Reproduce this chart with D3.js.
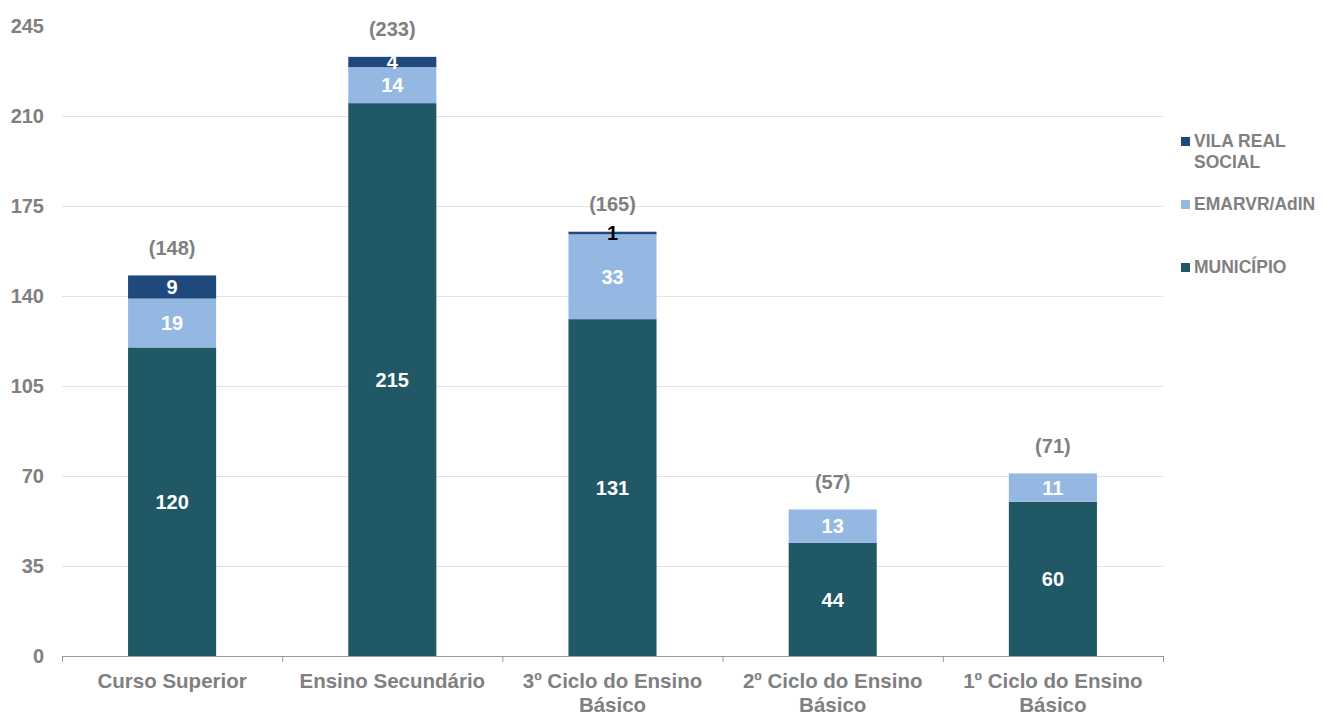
<!DOCTYPE html>
<html><head><meta charset="utf-8">
<script src="https://cdn.jsdelivr.net/npm/d3@7"></script>
<style>body{margin:0;background:#fff}svg{display:block;font-family:"Liberation Sans",Arial,sans-serif}</style>
</head><body><svg id="c" width="1333" height="715"></svg>
<script>
const categories = ["Curso Superior","Ensino Secundário","3º Ciclo do Ensino Básico","2º Ciclo do Ensino Básico","1º Ciclo do Ensino Básico"];
const labelLines = [["Curso Superior"],["Ensino Secundário"],["3º Ciclo do Ensino","Básico"],["2º Ciclo do Ensino","Básico"],["1º Ciclo do Ensino","Básico"]];
const municipio = [120,215,131,44,60];
const emarvr = [19,14,33,13,11];
const vilaReal = [9,4,1,0,0];
const yTicks = [0,35,70,105,140,175,210,245];
const seriesNames = ["MUNICÍPIO","EMARVR/AdIN","VILA REAL SOCIAL"];
const colors = ["#215866","#95B8E3","#1F487C"];

const svg = d3.select("#c");
const L=62,R=1163,T=26,B=656;
const x = d3.scaleBand().domain(categories).range([L,R]).padding(0);
const y = d3.scaleLinear().domain([0,245]).range([B,T]);
const gray="#808080";

svg.append("g").selectAll("line").data(yTicks.filter(d=>d>0 && d<245)).join("line")
 .attr("x1",L).attr("x2",R).attr("y1",d=>y(d)+0.5).attr("y2",d=>y(d)+0.5)
 .attr("stroke","#e3e3e3").attr("stroke-width",1);

svg.append("g").selectAll("text").data(yTicks).join("text")
 .attr("x",44).attr("y",d=>y(d)).attr("dy","0.36em").attr("text-anchor","end")
 .attr("font-size",20).attr("font-weight","bold").attr("fill",gray).text(d=>d);

const data = categories.map((c,i)=>({cat:c,MUNICÍPIO:municipio[i],"EMARVR/AdIN":emarvr[i],"VILA REAL SOCIAL":vilaReal[i]}));
const stack = d3.stack().keys(seriesNames)(data);
const bw = x.bandwidth()*0.4;
const bx = c => x(c)+(x.bandwidth()-bw)/2;

stack.forEach((s,si)=>{
  svg.append("g").selectAll("rect").data(s.filter(d=>d[1]-d[0]>0)).join("rect")
   .attr("x",d=>bx(d.data.cat)).attr("width",bw)
   .attr("y",d=>y(d[1])).attr("height",d=>y(d[0])-y(d[1]))
   .attr("fill",colors[si]);
});
stack.forEach((s,si)=>{
  svg.append("g").selectAll("text").data(s.filter(d=>d[1]-d[0]>0)).join("text")
   .attr("x",d=>x(d.data.cat)+x.bandwidth()/2)
   .attr("y",d=>y((d[0]+d[1])/2)).attr("dy","0.36em").attr("text-anchor","middle")
   .attr("font-size",20).attr("font-weight","bold")
   .attr("fill",d=>(d[1]-d[0])<2?"#000":"#fff")
   .text(d=>d[1]-d[0]);
});
svg.append("g").selectAll("text").data(data).join("text")
 .attr("x",d=>x(d.cat)+x.bandwidth()/2)
 .attr("y",(d,i)=>y(municipio[i]+emarvr[i]+vilaReal[i])-28).attr("dy","0.36em")
 .attr("text-anchor","middle").attr("font-size",20).attr("font-weight","bold").attr("fill",gray)
 .text((d,i)=>"("+(municipio[i]+emarvr[i]+vilaReal[i])+")");

svg.append("line").attr("x1",L).attr("x2",R).attr("y1",B+0.5).attr("y2",B+0.5).attr("stroke","#9a9a9a");
const bounds = categories.map(c=>x(c)).concat([R]);
svg.append("g").selectAll("line").data(bounds).join("line")
 .attr("x1",d=>d+0.5).attr("x2",d=>d+0.5).attr("y1",B).attr("y2",B+6).attr("stroke","#9a9a9a");
categories.forEach((c,i)=>{
  const t = svg.append("text").attr("y",681)
   .attr("text-anchor","middle").attr("font-size",20.5).attr("font-weight","bold").attr("fill",gray);
  labelLines[i].forEach((ln,j)=>t.append("tspan").attr("x",x(c)+x.bandwidth()/2).attr("dy",j===0?"0.36em":"1.17em").text(ln));
});

const leg = [
 {name:["VILA REAL","SOCIAL"],color:colors[2],y:141},
 {name:["EMARVR/AdIN"],color:colors[1],y:204},
 {name:["MUNICÍPIO"],color:colors[0],y:267}
];
leg.forEach(l=>{
  svg.append("rect").attr("x",1181).attr("y",l.y-4).attr("width",9).attr("height",9).attr("fill",l.color);
  const t=svg.append("text").attr("font-size",17.5).attr("font-weight","bold").attr("fill",gray);
  l.name.forEach((n,j)=>t.append("tspan").attr("x",1194).attr("y",l.y+21*j).attr("dy","0.36em").text(n));
});
</script></body></html>
